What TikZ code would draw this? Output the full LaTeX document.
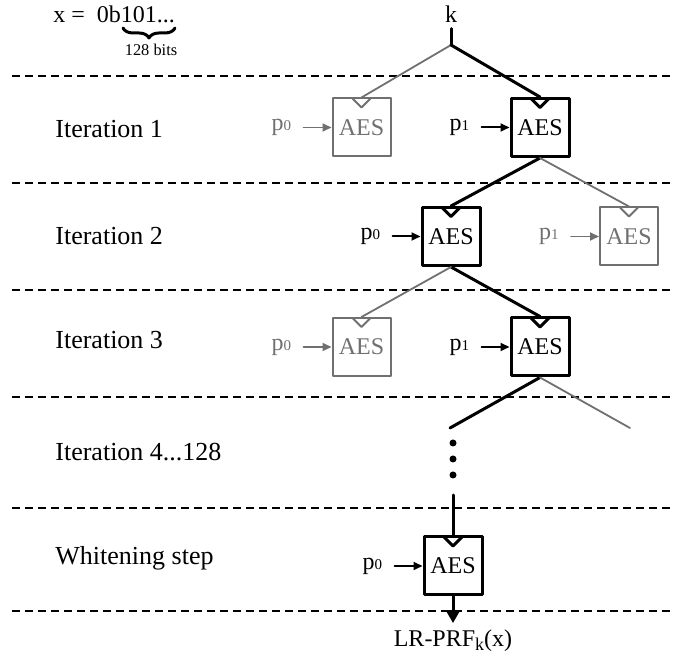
\documentclass[tikz,border=0pt]{standalone}
\usepackage{fontspec}
\setmainfont{Liberation Serif}
\usepackage{tikz}
\usetikzlibrary{arrows.meta,positioning,decorations.pathreplacing}
\definecolor{lightgrey}{RGB}{112,112,112}

\tikzset{
  sep/.style={line width=1pt, dash pattern=on 4pt off 2.5pt, line cap=butt},
  blk/.style={line width=1.5pt},
  gry/.style={line width=0.9pt, color=lightgrey},
  lbl/.style={anchor=west, inner sep=0pt, font=\fontsize{13}{15}\selectfont},
  aes/.style={draw, line width=1.5pt, minimum size=29pt, inner sep=0pt,
    path picture={\draw[line width=1.5pt] ([xshift=-4.5pt]path picture bounding box.north) -- ([yshift=-4.5pt]path picture bounding box.north) -- ([xshift=4.5pt]path picture bounding box.north);}},
  aesg/.style={draw=lightgrey, text=lightgrey, line width=1pt, minimum size=29pt, inner sep=0pt,
    path picture={\draw[lightgrey, line width=1pt] ([xshift=-4.5pt]path picture bounding box.north) -- ([yshift=-4.5pt]path picture bounding box.north) -- ([xshift=4.5pt]path picture bounding box.north);}},
  inlbl/.style={inner sep=0pt},
  inlblg/.style={inner sep=0pt, text=lightgrey},
  inblk/.style={-{Triangle[length=4.5pt,width=4pt]}, line width=1pt, shorten <=6pt},
  ingry/.style={-{Triangle[length=4.5pt,width=4pt]}, line width=0.9pt, lightgrey, shorten <=6pt}
}

\begin{document}
\begin{tikzpicture}[line cap=round,line join=round,x=0.5pt,y=-0.5pt,font=\fontsize{12}{14}\selectfont]
        \useasboundingbox (0,0) rectangle (675,656);
        % separators
        \foreach \y in {76,183,290,397,508,611}
            \draw[sep] (12,\y) -- (675,\y);
        % row labels
        \node[lbl] (it1) at (55,129.5) {Iteration 1};
        \node[lbl] (it2) at (55,236.5) {Iteration 2};
        \node[lbl] (it3) at (55,340) {Iteration 3};
        \node[lbl] (it4) at (55,452.5) {Iteration 4...128};
        \node[lbl] (wh) at (55,558) {Whitening step};
        % input x
        \node[anchor=base west, inner sep=0pt] (x) at (53,23) {x =\ \ 0b101...};
        \draw[decorate, decoration={brace, amplitude=5pt, mirror}, line width=1.5pt] (123,28) -- (175,28);
        \node[inner sep=0pt, font=\fontsize{8.2}{9}\selectfont] (bits) at (151,50) {128 bits};
        % key
        \node[inner sep=0pt] (k) at (451,14) {k};
        \coordinate (split) at (451,45);
        % AES boxes
        \node[aesg] (b1g) at (361.5,127.5) {AES};
        \node[aes] (b1b) at (540,127.5) {AES};
        \node[aes] (b2b) at (451,236.5) {AES};
        \node[aesg] (b2g) at (629,236.5) {AES};
        \node[aesg] (b3g) at (361.5,347) {AES};
        \node[aes] (b3b) at (540,347) {AES};
        \node[aes] (wb) at (453,566) {AES};
        % inputs p0, p1
        \node[inlblg, left=20pt of b1g] (p1a) {p{\fontsize{7.5}{8}\selectfont 0}};
        \node[inlbl, left=20pt of b1b] (p1b) {p{\fontsize{7.5}{8}\selectfont 1}};
        \node[inlbl, left=20pt of b2b] (p2a) {p{\fontsize{7.5}{8}\selectfont 0}};
        \node[inlblg, left=20pt of b2g] (p2b) {p{\fontsize{7.5}{8}\selectfont 1}};
        \node[inlblg, left=20pt of b3g] (p3a) {p{\fontsize{7.5}{8}\selectfont 0}};
        \node[inlbl, left=20pt of b3b] (p3b) {p{\fontsize{7.5}{8}\selectfont 1}};
        \node[inlbl, left=20pt of wb] (pw) {p{\fontsize{7.5}{8}\selectfont 0}};
        \draw[ingry] (p1a) -- (b1g);
        \draw[inblk] (p1b) -- (b1b);
        \draw[inblk] (p2a) -- (b2b);
        \draw[ingry] (p2b) -- (b2g);
        \draw[ingry] (p3a) -- (b3g);
        \draw[inblk] (p3b) -- (b3b);
        \draw[inblk] (pw) -- (wb);
        % tree
        \draw[blk, shorten <=3pt] (k) -- (split);
        \draw[gry] (split) -- (b1g.north);
        \draw[blk] (split) -- (b1b.north);
        \draw[blk] (b1b.south) -- (b2b.north);
        \draw[gry] (b1b.south) -- (b2g.north);
        \draw[blk] (b2b.south) -- (b3b.north);
        \draw[gry] (b2b.south) -- (b3g.north);
        \coordinate (e1) at (450,428);
        \coordinate (e2) at (630,428);
        \draw[blk] (b3b.south) -- (e1);
        \draw[gry] (b3b.south) -- (e2);
        \foreach \y in {443,459,475}
            \fill (453,\y) circle (1.75pt);
        \coordinate (e3) at (453,495);
        \draw[blk] (e3) -- (wb.north);
        % output
        \node (out) at (453,641) {LR-PRF\raisebox{-0.35ex}{\fontsize{9}{10}\selectfont k}(x)};
        \draw[blk,-{Triangle[length=6.5pt,width=7pt]}] (wb) -- (out);
    \end{tikzpicture}
\end{document}
